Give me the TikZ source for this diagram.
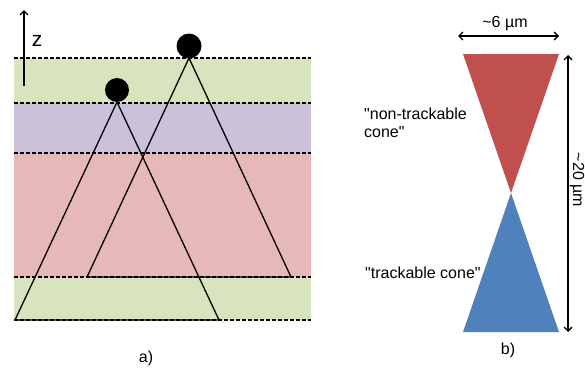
\documentclass[tikz,border=0pt]{standalone}
\usepackage{fontspec}
\setmainfont{Liberation Sans}
\usetikzlibrary{arrows.meta}
\definecolor{bandgreen}{RGB}{215,228,189}
\definecolor{bandviolet}{RGB}{204,193,218}
\definecolor{bandred}{RGB}{230,185,184}
\definecolor{conered}{RGB}{192,80,77}
\definecolor{coneblue}{RGB}{79,129,189}

\begin{document}
\begin{tikzpicture}[x=1pt,y=-1pt,
    layer/.style={line width=1.2pt, dash pattern=on 4pt off 2pt},
    cone/.style={line width=1.3pt, line join=round},
    lbl/.style={font=\fontsize{16}{18}\selectfont, inner sep=0pt},
    dim/.style={line width=1.3pt, {Straight Barb[length=4pt,width=8pt]}-{Straight Barb[length=4pt,width=8pt]}}]
    \useasboundingbox (0,0) rectangle (585,370);
    % Layers of the stack (panel a)
    \fill[bandgreen] (14,58) rectangle (311,103);
    \fill[bandviolet] (14,103) rectangle (311,153);
    \fill[bandred] (14,153) rectangle (311,277);
    \fill[bandgreen] (14,277) rectangle (311,320);
    \foreach \y in {58,103,153,277,320}
        \draw[layer] (14,\y) -- (311,\y);
    % Two cones with their hits
    \draw[cone] (189,58) -- (87,277) -- (291,277) -- cycle;
    \draw[cone] (117,102) -- (15,320) -- (219,320) -- cycle;
    \fill (189,46) circle (12.5);
    \fill (117,90) circle (12);
    % z axis
    \coordinate (zfrom) at (24,86);
    \coordinate (zto) at (24,10);
    \draw[line width=1.3pt, -{Straight Barb[length=4pt,width=8pt]}] (zfrom) -- (zto);
    \node[font=\fontsize{21}{24}\selectfont, inner sep=0pt] (zlabel) at (37,41) {z};
    \node[lbl] (alabel) at (146,358) {a)};
    % Trackable / non-trackable cones (panel b)
    \fill[conered] (463,54) -- (559,54) -- (511,193) -- cycle;
    \fill[coneblue] (511,193) -- (463,332) -- (559,332) -- cycle;
    \coordinate (wleft) at (458,36);
    \coordinate (wright) at (559,36);
    \draw[dim] (wleft) -- (wright);
    \node[lbl, anchor=base] (wlabel) at (505,27) {\textasciitilde 6 µm};
    \coordinate (htop) at (568,55);
    \coordinate (hbot) at (568,332);
    \draw[dim] (htop) -- (hbot);
    \node[lbl, rotate=-90, anchor=north] (hlabel) at (584.5,180) {\textasciitilde 20 µm};
    \node[lbl, align=left, anchor=west] (ntlabel) at (364,123) {\textquotedbl non-trackable\\cone\textquotedbl};
    \node[lbl, anchor=base west] (tlabel) at (365,278) {\textquotedbl trackable cone\textquotedbl};
    \node[lbl] (blabel) at (508,350) {b)};
\end{tikzpicture}
\end{document}
